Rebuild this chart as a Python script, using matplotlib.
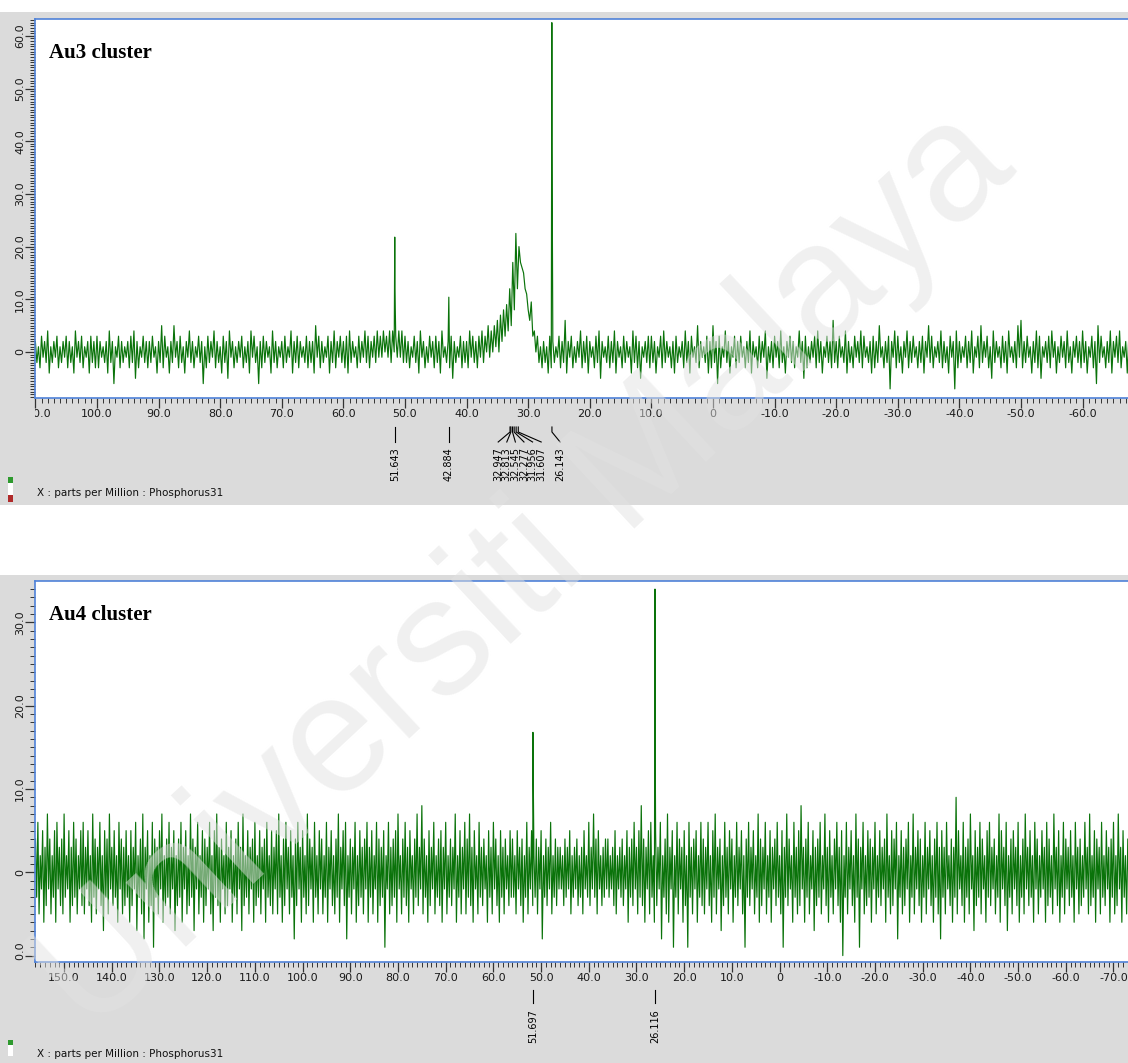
import matplotlib.pyplot as plt
import numpy as np
from matplotlib import transforms
from matplotlib.patches import Rectangle
from matplotlib.ticker import MultipleLocator

# ---- data (ppm, intensity) ----
# noise every 0.5 ppm: upper extreme at the ppm, lower extreme a quarter ppm later
au3_grid = np.arange(110, -68, -0.5)
au3_hi = [
    2, 1, 3, 2, 4, 1, 2, 3, 1, 2, 3, 2, 1, 4, 2, 3, 1, 2, 3, 2,
    3, 2, 1, 2, 4, 2, 1, 3, 2, 1, 2, 3, 4, 2, 1, 3, 2, 2, 3, 1,
    2, 5, 3, 1, 2, 5, 2, 3, 1, 2, 4, 2, 1, 3, 2, 1, 3, 2, 4, 2,
    1, 3, 2, 4, 2, 1, 2, 3, 1, 2, 4, 3, 1, 2, 3, 2, 1, 4, 2, 1,
    2, 3, 1, 4, 2, 3, 2, 1, 3, 2, 2, 5, 3, 2, 1, 3, 2, 4, 2, 3,
    2, 3, 4, 2, 1, 3, 2, 4, 3, 2, 3, 4, 3, 4, 3, 4, 4, 3, 4, 4,
    3, 2, 1, 3, 2, 4, 2, 1, 3, 2, 3, 2, 4, 1, 2, 3, 2, 1, 3, 2,
    2, 4, 3, 2, 3, 4, 3, 5, 4, 5, 6, 7, 8, 9, 12, 17, 22.5, 20, 16, 12,
    8, 9.5, 4, 3, 1, 2, 1, 3, 2, 1, 3, 2, 6, 2, 3, 1, 2, 4, 2, 3,
    2, 1, 3, 4, 2, 1, 3, 2, 4, 2, 1, 3, 2, 1, 4, 3, 2, 1, 2, 3,
    3, 2, 1, 3, 4, 2, 1, 2, 3, 1, 2, 4, 2, 3, 1, 5, 2, 1, 3, 2,
    5, 2, 3, 1, 4, 2, 1, 3, 2, 3, 1, 2, 4, 2, 1, 3, 2, 4, 1, 2,
    3, 2, 4, 1, 2, 3, 2, 1, 4, 2, 3, 1, 2, 3, 4, 2, 1, 3, 2, 6,
    2, 3, 1, 4, 2, 1, 3, 2, 4, 3, 1, 2, 3, 2, 5, 1, 2, 3, 2, 4,
    3, 1, 2, 4, 2, 3, 1, 2, 3, 2, 5, 3, 1, 2, 4, 2, 1, 3, 2, 4,
    2, 1, 3, 2, 4, 1, 3, 5, 2, 3, 1, 4, 2, 1, 3, 2, 4, 1, 2, 5,
    6, 2, 3, 1, 2, 4, 3, 1, 2, 3, 4, 2, 1, 3, 2, 4, 1, 2, 3, 2,
    4, 2, 1, 3, 2, 5, 3, 1, 2, 4, 2, 3, 4, 1, 2, 3,
]
au3_lo = [
    -2, -3, -1, -2, -4, -2, -1, -3, -2, -1, -3, -2, -4, -1, -2, -3, -1, -4, -2, -3,
    -3, -1, -2, -4, -2, -6, -1, -3, -2, -1, -3, -2, -5, -3, -1, -2, -3, -2, -1, -4,
    -2, -3, -1, -4, -2, -1, -3, -2, -4, -1, -2, -3, -1, -2, -6, -3, -2, -1, -3, -2,
    -4, -2, -5, -1, -3, -2, -1, -3, -2, -4, -1, -2, -6, -3, -2, -1, -4, -2, -3, -1,
    -3, -2, -1, -4, -2, -3, -1, -2, -3, -2, -4, -1, -3, -2, -1, -4, -2, -3, -1, -2,
    -3, -4, -2, -1, -3, -2, -1, -2, -3, -1, -2, -1, -1, 0, -1, -2, 0, -1, -1, -2,
    -2, -3, -1, -2, -4, -1, -3, -2, -1, -3, -2, -4, -1, -2, -3, -5, -2, -1, -3, -2,
    -3, -1, -2, -3, -1, -2, 0, -1, 0, 1, 0, 2, 3, 4, 5, 8, 12, 17, 15, 11,
    6, 3, 0, -2, -3, -2, -4, -3, -2, -1, -3, -2, -4, -1, -3, -2, -1, -3, -2, -4,
    -1, -3, -2, -5, -1, -2, -3, -2, -4, -1, -3, -2, -1, -4, -2, -3, -5, -1, -2, -3,
    -2, -4, -1, -3, -2, -1, -3, -4, -2, -1, -3, -2, -4, -1, -2, -3, -1, -2, -4, -3,
    -2, -6, -3, -1, -2, -4, -1, -3, -2, -1, -3, -2, -4, -1, -3, -2, -1, -5, -2, -3,
    -1, -3, -2, -4, -1, -2, -3, -1, -2, -5, -3, -2, -1, -3, -2, -4, -1, -2, -3, -2,
    -3, -1, -2, -4, -2, -3, -1, -2, -3, -1, -2, -4, -3, -2, -1, -3, -2, -7, -1, -3,
    -2, -4, -1, -3, -2, -1, -3, -2, -4, -1, -2, -3, -1, -2, -3, -2, -4, -1, -7, -3,
    -2, -1, -3, -2, -4, -1, -3, -2, -1, -3, -5, -2, -1, -3, -2, -4, -1, -2, -3, -1,
    -3, -2, -1, -4, -2, -3, -5, -1, -2, -3, -1, -4, -2, -1, -3, -2, -4, -1, -2, -3,
    -2, -4, -1, -3, -6, -2, -1, -3, -2, -4, -1, -2, -3, -1, -4, -2,
]
au3_peak_ppm = [51.66, 51.63, 42.884, 26.16, 26.13]
au3_peak_int = [21.8, 12.0, 10.4, 62.5, 39.0]
au3_labels = [51.643, 42.884, 32.947, 32.813, 32.545, 32.277, 31.956, 31.607, 26.143]

au4_grid = np.arange(156, -74, -0.5)
au4_hi = [
    4, 6, 2, 5, 3, 7, 4, 2, 5, 6, 3, 4, 7, 2, 5, 3, 6, 4, 2, 5,
    6, 3, 5, 2, 7, 4, 3, 6, 2, 5, 4, 7, 3, 5, 2, 6, 4, 3, 5, 2,
    5, 3, 6, 2, 4, 7, 3, 5, 2, 6, 4, 3, 5, 7, 2, 4, 6, 3, 5, 2,
    4, 6, 3, 5, 2, 7, 4, 3, 6, 2, 5, 4, 3, 6, 2, 5, 7, 3, 4, 2,
    6, 3, 5, 2, 4, 6, 3, 7, 2, 5, 3, 4, 6, 2, 5, 3, 4, 6, 2, 5,
    3, 5, 7, 2, 4, 6, 3, 5, 2, 4, 6, 3, 5, 2, 7, 4, 3, 6, 2, 5,
    4, 2, 6, 3, 5, 2, 4, 7, 3, 5, 6, 2, 4, 3, 6, 2, 5, 3, 4, 6,
    3, 5, 2, 6, 4, 3, 5, 2, 6, 3, 4, 5, 7, 2, 4, 6, 3, 5, 2, 4,
    7, 3, 8, 4, 2, 5, 3, 6, 2, 4, 5, 3, 6, 2, 4, 3, 7, 2, 5, 3,
    6, 4, 7, 3, 5, 2, 6, 3, 4, 2, 5, 3, 6, 4, 2, 5, 3, 4, 2, 5,
    4, 2, 5, 3, 4, 2, 6, 3, 5, 2, 4, 3, 5, 2, 4, 3, 6, 2, 4, 3,
    3, 2, 4, 3, 5, 2, 3, 4, 2, 3, 5, 2, 6, 3, 7, 4, 5, 2, 3, 4,
    4, 2, 3, 5, 2, 3, 4, 2, 5, 3, 4, 6, 3, 5, 8, 4, 3, 5, 6, 2,
    5, 3, 6, 2, 4, 7, 3, 5, 2, 6, 4, 3, 5, 2, 6, 3, 4, 5, 2, 6,
    4, 3, 6, 2, 5, 7, 3, 4, 2, 6, 3, 5, 4, 2, 6, 3, 5, 2, 4, 6,
    3, 5, 2, 7, 4, 3, 6, 2, 5, 3, 4, 6, 2, 5, 3, 7, 4, 2, 6, 3,
    5, 8, 3, 4, 6, 2, 5, 3, 4, 6, 2, 7, 3, 5, 2, 4, 6, 3, 5, 2,
    6, 3, 5, 2, 7, 4, 3, 6, 2, 5, 4, 3, 6, 2, 5, 3, 4, 7, 2, 5,
    4, 6, 2, 5, 3, 4, 6, 2, 7, 3, 5, 4, 2, 6, 3, 5, 2, 4, 6, 3,
    5, 3, 6, 2, 4, 3, 9, 5, 2, 6, 3, 4, 7, 2, 5, 3, 6, 4, 2, 5,
    6, 3, 4, 2, 7, 5, 3, 6, 2, 4, 5, 3, 6, 2, 4, 7, 3, 5, 2, 6,
    4, 2, 5, 3, 6, 4, 2, 7, 3, 5, 2, 6, 4, 3, 5, 2, 6, 3, 4, 2,
    6, 3, 7, 2, 5, 4, 3, 6, 2, 5, 3, 4, 6, 2, 7, 3, 5, 2, 4, 6,
]
au4_lo = [
    -3, -5, -2, -6, -4, -2, -5, -3, -6, -2, -4, -5, -3, -2, -6, -4, -3, -5, -2, -4,
    -5, -2, -4, -6, -3, -5, -2, -4, -7, -3, -5, -2, -4, -3, -6, -2, -5, -4, -3, -6,
    -4, -2, -7, -3, -5, -8, -2, -6, -4, -9, -3, -5, -2, -6, -4, -3, -5, -2, -7, -4,
    -3, -6, -2, -5, -4, -3, -7, -2, -5, -3, -6, -4, -2, -5, -7, -3, -4, -6, -2, -5,
    -4, -2, -6, -3, -5, -2, -7, -4, -3, -5, -2, -6, -4, -3, -5, -2, -6, -3, -4, -5,
    -2, -5, -3, -6, -4, -2, -5, -3, -8, -4, -2, -6, -3, -5, -4, -2, -6, -3, -5, -2,
    -5, -3, -6, -2, -4, -5, -3, -6, -2, -4, -8, -3, -5, -2, -6, -4, -3, -5, -2, -6,
    -3, -5, -2, -6, -4, -3, -9, -2, -5, -4, -3, -6, -2, -5, -3, -4, -6, -2, -5, -3,
    -4, -2, -5, -3, -6, -4, -2, -5, -3, -4, -6, -2, -5, -3, -4, -2, -6, -3, -5, -2,
    -5, -3, -4, -6, -2, -5, -3, -4, -2, -6, -3, -5, -2, -4, -6, -3, -5, -2, -4, -3,
    -3, -5, -2, -4, -6, -3, -5, -2, -4, -3, -5, -2, -8, -3, -4, -2, -5, -3, -4, -2,
    -2, -4, -3, -2, -5, -3, -2, -4, -3, -5, -2, -3, -4, -2, -3, -5, -2, -4, -3, -2,
    -3, -2, -4, -5, -2, -3, -4, -2, -6, -3, -4, -2, -5, -3, -4, -6, -2, -5, -3, -6,
    -4, -2, -8, -3, -5, -6, -2, -9, -3, -5, -2, -6, -4, -9, -3, -5, -2, -6, -3, -4,
    -5, -2, -4, -6, -3, -5, -2, -7, -4, -3, -5, -2, -6, -3, -4, -2, -5, -9, -3, -4,
    -2, -5, -3, -6, -4, -2, -5, -3, -6, -2, -4, -3, -5, -9, -3, -4, -2, -6, -3, -5,
    -4, -2, -6, -3, -5, -2, -7, -4, -3, -5, -2, -4, -6, -3, -5, -2, -4, -6, -10, -3,
    -5, -2, -4, -6, -3, -9, -2, -5, -4, -3, -6, -2, -5, -3, -4, -2, -6, -3, -5, -4,
    -2, -8, -3, -5, -4, -2, -6, -3, -5, -2, -4, -6, -3, -5, -2, -4, -6, -3, -5, -8,
    -3, -5, -2, -4, -6, -3, -5, -2, -4, -6, -3, -5, -2, -7, -4, -3, -5, -2, -6, -3,
    -4, -2, -5, -3, -6, -2, -4, -7, -3, -5, -2, -4, -6, -3, -5, -2, -4, -3, -6, -2,
    -5, -3, -2, -6, -4, -3, -5, -2, -4, -6, -3, -5, -2, -4, -3, -6, -2, -5, -4, -3,
    -2, -5, -4, -3, -6, -2, -5, -3, -4, -2, -6, -3, -5, -4, -2, -6, -3, -5, -2, -4,
]
au4_peak_ppm = [51.71, 51.68, 26.13, 26.10]
au4_peak_int = [16.8, 13.5, 34.0, 19.1]
au4_labels = [51.697, 26.116]

GREEN = '#0a730a'
BLUE = '#4f82d8'
GREY = '#dbdbdb'
W, H = 1128, 1063

fig = plt.figure(figsize=(W / 100, H / 100), dpi=100)


def fx(px):
    return px / W


def fy(py):
    return 1 - py / H


def grey_box(x0, y0, x1, y1, color=GREY, z=0):
    fig.add_artist(Rectangle((fx(x0), fy(y1)), fx(x1) - fx(x0), fy(y0) - fy(y1),
                             transform=fig.transFigure, color=color, zorder=z, lw=0))


def spectrum(ax, grid, hi, lo, pk_x, pk_y):
    x = np.concatenate([grid, grid - 0.25, pk_x])
    y = np.concatenate([np.asarray(hi, float), np.asarray(lo, float), pk_y])
    order = np.argsort(-x, kind='stable')
    ax.plot(x[order], y[order], color=GREEN, lw=0.85)


def panel(top_px, bot_px, xlim, ylim, yminor, title, yticks):
    ax = fig.add_axes([fx(35), fy(bot_px), fx(W - 35), (bot_px - top_px) / H])
    ax.set_xlim(*xlim)
    ax.set_ylim(*ylim)
    for s in ['left', 'top', 'bottom']:
        ax.spines[s].set_color(BLUE)
        ax.spines[s].set_linewidth(1.2)
    ax.spines['right'].set_visible(False)
    ax.xaxis.set_major_locator(MultipleLocator(10))
    ax.xaxis.set_minor_locator(MultipleLocator(1))
    ax.yaxis.set_major_locator(MultipleLocator(10))
    ax.yaxis.set_minor_locator(MultipleLocator(yminor))
    ax.tick_params(which='major', length=7, width=0.9, color='#333333',
                   labelbottom=False, labelleft=False)
    ax.tick_params(which='minor', length=3.5, width=0.7, color='#333333')
    ax.text((49 - 35) / (W - 35), (bot_px - top_px - 24) / (bot_px - top_px), title,
            transform=ax.transAxes, va='top', ha='left', fontsize=15,
            fontweight='bold', family='Liberation Serif')

    # tick labels, clipped at the panel edges like the screenshot
    xclip = transforms.TransformedBbox(
        transforms.Bbox([[fx(35), 0], [1, 1]]), fig.transFigure)
    yclip = transforms.TransformedBbox(
        transforms.Bbox([[0, fy(bot_px)], [1, 1]]), fig.transFigure)
    bx = transforms.blended_transform_factory(ax.transData, fig.transFigure)
    for v in range(-80, 170, 10):
        if xlim[1] <= v <= xlim[0] + 1:
            t = ax.text(v, fy(bot_px + 16), '0' if v == 0 else f'{v:.1f}', transform=bx,
                        ha='center', va='center', fontsize=8, color='#1a1a1a')
            t.set_clip_box(xclip)
            t.set_clip_on(True)
    by = transforms.blended_transform_factory(fig.transFigure, ax.transData)
    for v in yticks:
        t = ax.text(fx(20), v, '0' if v == 0 else f'{v:.1f}', transform=by, rotation=90,
                    ha='center', va='center', fontsize=8, color='#1a1a1a')
        t.set_clip_box(yclip)
        t.set_clip_on(True)
    return ax


def peak_labels(ax, values, y0, y1, y2, ytext):
    xl = ax.get_xlim()
    ppm_per_px = (xl[0] - xl[1]) / (W - 35)
    gap = 8.6 * ppm_per_px
    vals = sorted(values, reverse=True)
    groups = [[vals[0]]]
    for v in vals[1:]:
        if groups[-1][-1] - v < 1.0:
            groups[-1].append(v)
        else:
            groups.append([v])
    pos = []
    crowded = False
    for g in groups:
        c = np.mean(g)
        p = [c + gap * (len(g) - 1) / 2 - gap * i for i in range(len(g))]
        if len(g) > 2:
            p = [q - 0.7 * gap for q in p]
        # a lone label right after a crowded group is pushed clear of it
        if crowded and pos[-1] - p[0] < 3 * gap:
            p = [pos[-1] - 2.2 * gap]
        crowded = len(g) > 2
        pos.extend(p)
    bl = transforms.blended_transform_factory(ax.transData, fig.transFigure)
    for v, p in zip(vals, pos):
        if abs(v - p) < 1e-9:
            ax.plot([v, v], [fy(y0), fy(y2)], transform=bl, color='k', lw=0.8, clip_on=False)
        else:
            ax.plot([v, v, p], [fy(y0), fy(y1), fy(y2)], transform=bl, color='k', lw=0.8,
                    clip_on=False)
        ax.text(p, fy(ytext), f'{v:.3f}', transform=bl, rotation=90, ha='center', va='top',
                fontsize=7, color='k')


# backgrounds of the two screenshots
grey_box(0, 12, W, 505)
grey_box(0, 575, W, H)

ax1 = panel(19, 398, (110.06, -67.37), (-8.73, 63.19), 0.5, 'Au3 cluster', range(0, 70, 10))
spectrum(ax1, au3_grid, au3_hi, au3_lo, au3_peak_ppm, au3_peak_int)
peak_labels(ax1, au3_labels, 427, 432, 442, 447)

ax2 = panel(581, 962, (156.1, -73.04), (-10.77, 34.97), 1, 'Au4 cluster', range(-10, 40, 10))
spectrum(ax2, au4_grid, au4_hi, au4_lo, au4_peak_ppm, au4_peak_int)
peak_labels(ax2, au4_labels, 990, 995, 1003, 1009)

for yb in (493, 1054):
    fig.text(fx(37), fy(yb), 'X : parts per Million : Phosphorus31', va='center',
             ha='left', fontsize=7.5, color='#111111')

# small colour key at the lower left of each screenshot
grey_box(8, 477, 13, 483, '#2e9a2e', 3)
grey_box(8, 483, 13, 495, 'white', 3)
grey_box(8, 495, 13, 502, '#b02a2a', 3)
grey_box(8, 1040, 13, 1045, '#2e9a2e', 3)
grey_box(8, 1045, 13, 1056, 'white', 3)

# repository watermark
fig.text(0.465, 0.462, 'Universiti Malaya', rotation=43, ha='center', va='center',
         fontsize=120, family='Liberation Sans', color='#e2e2e2', alpha=0.5, zorder=20)

fig.savefig('out.png', dpi=100)
